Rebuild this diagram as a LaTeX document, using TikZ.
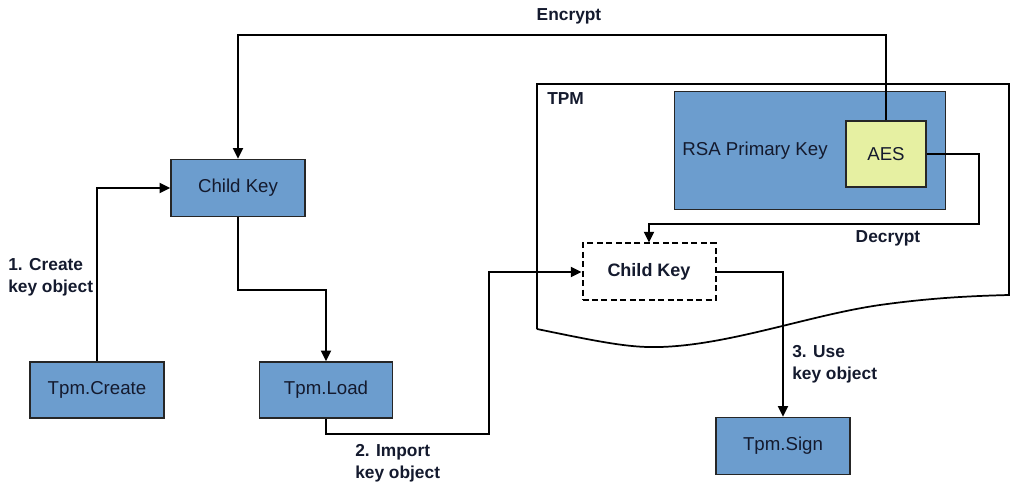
\documentclass[tikz,border=0pt]{standalone}
\usepackage{fontspec}
\setmainfont{Liberation Sans}
\usetikzlibrary{arrows.meta}
\definecolor{boxblue}{HTML}{6C9DCE}
\definecolor{aesyellow}{HTML}{E6F0A2}
\definecolor{txt}{HTML}{141A2E}
\tikzset{
  box/.style={draw=black!85, line width=1.1pt, fill=boxblue, text=txt,
    font=\fontsize{14}{16}\selectfont, inner sep=0pt, anchor=center},
  dbox/.style={draw=black, line width=1.5pt, dash pattern=on 4.5pt off 2.6pt, fill=white, text=txt,
    font=\bfseries\fontsize{13.5}{16}\selectfont, inner sep=0pt, anchor=center},
  arr/.style={line width=1.5pt, -{Triangle[length=8pt,width=7.5pt]}},
  ln/.style={line width=1.3pt},
  lbl/.style={font=\bfseries\fontsize{13}{16.5}\selectfont, text=txt, align=left, inner sep=0pt}
}
\begin{document}
\begin{tikzpicture}[x=0.75pt,y=-0.75pt]
\useasboundingbox (0,0) rectangle (1010,495);
% TPM frame
\draw[ln] (537,329) -- (537,84) -- (1009,84) -- (1009,295)
  .. controls (970,296) and (930,298) .. (880,305)
  .. controls (810,315) and (730,345) .. (660,347)
  .. controls (630,348) and (600,342) .. (537,329);
\node[lbl, anchor=north west] (tpm) at (547,92) {TPM};
% RSA primary key
\node[box, minimum width=271*0.75pt, minimum height=118*0.75pt, anchor=north west] (rsa) at (674,91) {};
\node[text=txt, font=\fontsize{14}{16}\selectfont, inner sep=0pt] (rsal) at (755,151) {RSA Primary Key};
\node[box, fill=aesyellow, minimum width=80*0.75pt, minimum height=66*0.75pt] (aes) at (886,154) {AES};
% nodes
\node[box, minimum width=134*0.75pt, minimum height=57*0.75pt] (ck) at (238,188) {Child Key};
\node[box, minimum width=134*0.75pt, minimum height=56*0.75pt] (create) at (97,390) {Tpm.Create};
\node[box, minimum width=133*0.75pt, minimum height=56*0.75pt] (load) at (326,390) {Tpm.Load};
\node[box, minimum width=134*0.75pt, minimum height=57*0.75pt] (sign) at (783,446) {Tpm.Sign};
\node[dbox, minimum width=133*0.75pt, minimum height=57*0.75pt] (ck2) at (649,272) {Child Key};
% connectors
\draw[arr] (aes.north) -- (aes.north |- 0,35) -| (ck.north);
\draw[arr] (create.north) |- (ck.west);
\draw[arr] (ck.south) -- (ck.south |- 0,290) -| (load.north);
\draw[arr] (load.south) -- (load.south |- 0,434) -- (489,434) |- (ck2.west);
\draw[arr] (aes.east) -- (979,154) -- (979,224) -| (ck2.north);
\draw[arr] (ck2.east) -| (sign.north);
% labels
\node[lbl] (enc) at (569,16) {Encrypt};
\node[lbl] (dec) at (888,238) {Decrypt};
\node[lbl, anchor=north west] (l1) at (8,258) {1. Create\\key object};
\node[lbl, anchor=north west] (l2) at (355,444) {2. Import\\key object};
\node[lbl, anchor=north west] (l3) at (792,345) {3. Use\\key object};
\end{tikzpicture}
\end{document}
